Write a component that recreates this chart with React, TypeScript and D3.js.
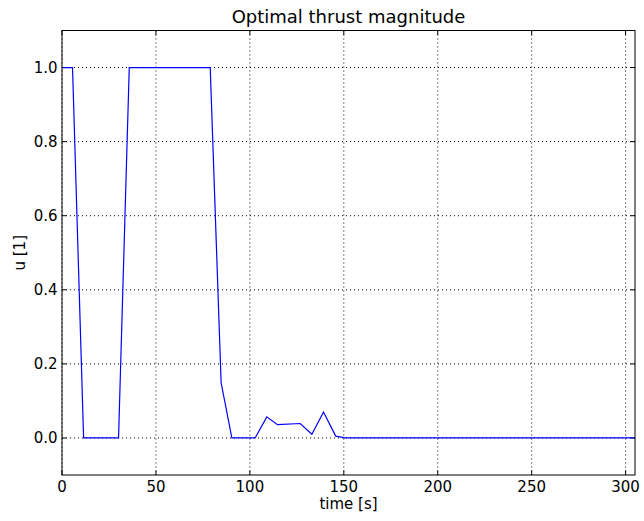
import React from "react";
import * as d3 from "d3";

const timeValues = [0, 5.6, 11.5, 30.1, 35.8, 78.9, 84.7, 90.4, 102.8, 109.0, 114.7, 126.8, 133.0, 139.2, 145.7, 150.7, 305];
const thrustValues = [1.0, 1.0, 0.0, 0.0, 1.0, 1.0, 0.149, 0.0, 0.0, 0.057, 0.036, 0.039, 0.01, 0.07, 0.005, 0.0, 0.0];
const xTicks = [0, 50, 100, 150, 200, 250, 300];
const yTicks = [0.0, 0.2, 0.4, 0.6, 0.8, 1.0];
const xDomain = [0, 305];
const yDomain = [-0.1, 1.1];

const W = 644, H = 521;
const L = 62, R = 635, T = 30.5, B = 475;
const FONT = "DejaVu Sans";

export default function App() {
  const x = d3.scaleLinear().domain(xDomain).range([L, R]);
  const y = d3.scaleLinear().domain(yDomain).range([B, T]);
  const line = d3.line<number>().x((_, i) => x(timeValues[i])).y((d) => y(d));
  const tk = 4.5;
  return (
    <svg width={W} height={H} style={{ position: "absolute", left: 0, top: 0 }}>
      <rect width={W} height={H} fill="#fff" />
      <text x={(L + R) / 2} y={23} textAnchor="middle" fontFamily={FONT} fontSize={18}>Optimal thrust magnitude</text>
      {xTicks.map((t) => (
        <g key={"x" + t}>
          <line x1={x(t)} x2={x(t)} y1={T} y2={B} stroke="#000" strokeWidth={1} strokeDasharray="1,3" />
          <line x1={x(t)} x2={x(t)} y1={B} y2={B - tk} stroke="#000" />
          <line x1={x(t)} x2={x(t)} y1={T} y2={T + tk} stroke="#000" />
          <text x={x(t)} y={492} textAnchor="middle" fontFamily={FONT} fontSize={15}>{t}</text>
        </g>
      ))}
      {yTicks.map((t) => (
        <g key={"y" + t}>
          <line x1={L} x2={R} y1={y(t)} y2={y(t)} stroke="#000" strokeWidth={1} strokeDasharray="1,3" />
          <line x1={L} x2={L + tk} y1={y(t)} y2={y(t)} stroke="#000" />
          <line x1={R} x2={R - tk} y1={y(t)} y2={y(t)} stroke="#000" />
          <text x={57.5} y={y(t) + 5.5} textAnchor="end" fontFamily={FONT} fontSize={15}>{t.toFixed(1)}</text>
        </g>
      ))}
      <path d={line(thrustValues) || ""} fill="none" stroke="#0000ff" strokeWidth={1.2} />
      <rect x={L} y={T} width={R - L} height={B - T} fill="none" stroke="#000" strokeWidth={1} />
      <text x={(L + R) / 2} y={509} textAnchor="middle" fontFamily={FONT} fontSize={15}>time [s]</text>
      <text transform={`translate(25,${(T + B) / 2}) rotate(-90)`} textAnchor="middle" fontFamily={FONT} fontSize={15}>u [1]</text>
    </svg>
  );
}
